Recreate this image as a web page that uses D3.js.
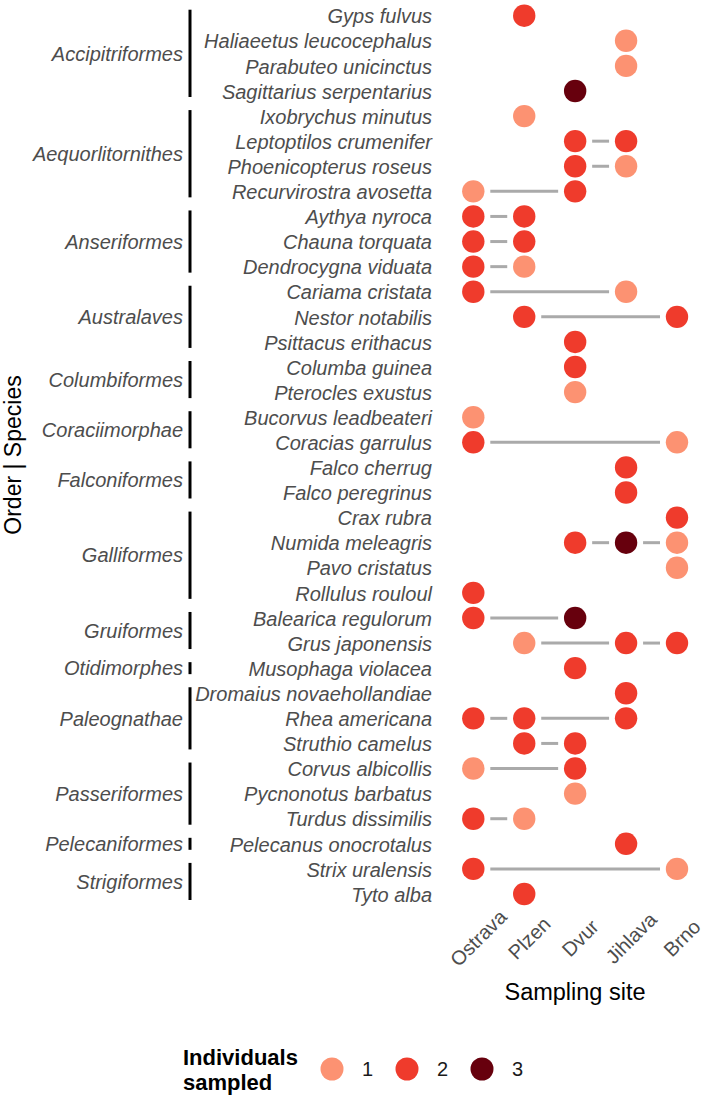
<!DOCTYPE html>
<html>
<head>
<meta charset="utf-8">
<script src="https://cdn.jsdelivr.net/npm/d3@7"></script>
<style>
  body { margin: 0; background: #fff; }
  text { font-family: "Liberation Sans", Arial, Helvetica, sans-serif; }
</style>
</head>
<body>
<div id="chart"></div>
<script>
"use strict";

// sampling sites (x axis)
var sites = ["Ostrava", "Plzen", "Dvur", "Jihlava", "Brno"];

// species, top to bottom
var species = [
  "Gyps fulvus", "Haliaeetus leucocephalus", "Parabuteo unicinctus", "Sagittarius serpentarius",
  "Ixobrychus minutus", "Leptoptilos crumenifer", "Phoenicopterus roseus", "Recurvirostra avosetta",
  "Aythya nyroca", "Chauna torquata", "Dendrocygna viduata",
  "Cariama cristata", "Nestor notabilis", "Psittacus erithacus",
  "Columba guinea", "Pterocles exustus",
  "Bucorvus leadbeateri", "Coracias garrulus",
  "Falco cherrug", "Falco peregrinus",
  "Crax rubra", "Numida meleagris", "Pavo cristatus", "Rollulus rouloul",
  "Balearica regulorum", "Grus japonensis",
  "Musophaga violacea",
  "Dromaius novaehollandiae", "Rhea americana", "Struthio camelus",
  "Corvus albicollis", "Pycnonotus barbatus", "Turdus dissimilis",
  "Pelecanus onocrotalus",
  "Strix uralensis", "Tyto alba"
];

// order names and how many species each has (in the same order as above)
var orders = ["Accipitriformes", "Aequorlitornithes", "Anseriformes", "Australaves",
              "Columbiformes", "Coraciimorphae", "Falconiformes", "Galliformes",
              "Gruiformes", "Otidimorphes", "Paleognathae", "Passeriformes",
              "Pelecaniformes", "Strigiformes"];
var orderSizes = [4, 4, 3, 3, 2, 2, 2, 4, 2, 1, 3, 3, 1, 2];

// sampled sites per species, with number of individuals
var samples = [
  [["Plzen", 2]],
  [["Jihlava", 1]],
  [["Jihlava", 1]],
  [["Dvur", 3]],
  [["Plzen", 1]],
  [["Dvur", 2], ["Jihlava", 2]],
  [["Dvur", 2], ["Jihlava", 1]],
  [["Ostrava", 1], ["Dvur", 2]],
  [["Ostrava", 2], ["Plzen", 2]],
  [["Ostrava", 2], ["Plzen", 2]],
  [["Ostrava", 2], ["Plzen", 1]],
  [["Ostrava", 2], ["Jihlava", 1]],
  [["Plzen", 2], ["Brno", 2]],
  [["Dvur", 2]],
  [["Dvur", 2]],
  [["Dvur", 1]],
  [["Ostrava", 1]],
  [["Ostrava", 2], ["Brno", 1]],
  [["Jihlava", 2]],
  [["Jihlava", 2]],
  [["Brno", 2]],
  [["Dvur", 2], ["Jihlava", 3], ["Brno", 1]],
  [["Brno", 1]],
  [["Ostrava", 2]],
  [["Ostrava", 2], ["Dvur", 3]],
  [["Plzen", 1], ["Jihlava", 2], ["Brno", 2]],
  [["Dvur", 2]],
  [["Jihlava", 2]],
  [["Ostrava", 2], ["Plzen", 2], ["Jihlava", 2]],
  [["Plzen", 2], ["Dvur", 2]],
  [["Ostrava", 1], ["Dvur", 2]],
  [["Dvur", 1]],
  [["Ostrava", 2], ["Plzen", 1]],
  [["Jihlava", 2]],
  [["Ostrava", 2], ["Brno", 1]],
  [["Plzen", 2]]
];

var counts = [1, 2, 3];
var countColors = ["#fc9272", "#ef3b2c", "#67000d"];

var width = 709, height = 1095;

var svg = d3.select("#chart")
            .append("svg")
            .attr("width", width)
            .attr("height", height);

// scales
var x = d3.scalePoint()
          .domain(sites)
          .range([473.3, 677]);

var y = d3.scalePoint()
          .domain(species)
          .range([15.7, 894]);

var color = d3.scaleOrdinal()
              .domain(counts)
              .range(countColors);

// flatten into points + segments
var points = [];
var segments = [];
samples.forEach(function(s, i) {
  s.forEach(function(p, j) {
    points.push({ species: species[i], site: p[0], n: p[1] });
    if (j > 0) {
      segments.push({ species: species[i], from: s[j - 1][0], to: p[0] });
    }
  });
});

var gap = 17;

svg.append("g")
   .selectAll("line")
   .data(segments)
   .enter()
   .append("line")
   .attr("x1", function(d) { return x(d.from) + gap; })
   .attr("x2", function(d) { return x(d.to) - gap; })
   .attr("y1", function(d) { return y(d.species); })
   .attr("y2", function(d) { return y(d.species); })
   .attr("stroke", "#aaaaaa")
   .attr("stroke-width", 3);

svg.append("g")
   .selectAll("circle")
   .data(points)
   .enter()
   .append("circle")
   .attr("cx", function(d) { return x(d.site); })
   .attr("cy", function(d) { return y(d.species); })
   .attr("r", 11.2)
   .attr("fill", function(d) { return color(d.n); });

// species labels (left axis)
var yAxis = d3.axisLeft(y).tickSize(0).tickPadding(0);
var gy = svg.append("g")
            .attr("transform", "translate(432,0)")
            .call(yAxis);
gy.select(".domain").remove();
gy.selectAll("text")
  .attr("x", 0)
  .attr("dy", "0.36em")
  .attr("font-size", 20)
  .attr("font-style", "italic")
  .attr("font-family", "Liberation Sans, Arial, sans-serif")
  .attr("fill", "#4d4d4d");

// order groups
var start = 0;
var groups = orders.map(function(o, i) {
  var g = { order: o, first: species[start], last: species[start + orderSizes[i] - 1] };
  start += orderSizes[i];
  return g;
});

var og = svg.append("g")
            .selectAll("g")
            .data(groups)
            .enter()
            .append("g");

og.append("line")
  .attr("x1", 190)
  .attr("x2", 190)
  .attr("y1", function(d) { return y(d.first) - 6; })
  .attr("y2", function(d) { return y(d.last) + 6; })
  .attr("stroke", "#000")
  .attr("stroke-width", 3);

og.append("text")
  .attr("x", 183)
  .attr("y", function(d) { return (y(d.first) + y(d.last)) / 2; })
  .attr("dy", "0.36em")
  .attr("text-anchor", "end")
  .attr("font-size", 20)
  .attr("font-style", "italic")
  .attr("fill", "#4d4d4d")
  .text(function(d) { return d.order; });

// site labels (bottom axis), rotated around their centre
svg.append("g")
   .selectAll("text")
   .data(sites)
   .enter()
   .append("text")
   .attr("transform", function(d) {
     return "translate(" + (x(d) + 5) + ",938) rotate(-45)";
   })
   .attr("text-anchor", "middle")
   .attr("dy", "0.35em")
   .attr("font-size", 20)
   .attr("fill", "#4d4d4d")
   .text(function(d) { return d; });

// axis titles
svg.append("text")
   .attr("transform", "translate(21,455) rotate(-90)")
   .attr("text-anchor", "middle")
   .attr("font-size", 23)
   .attr("fill", "#000")
   .text("Order | Species");

svg.append("text")
   .attr("x", 575)
   .attr("y", 1000)
   .attr("text-anchor", "middle")
   .attr("font-size", 23.5)
   .attr("fill", "#000")
   .text("Sampling site");

// legend
var legend = svg.append("g");

legend.append("text")
      .attr("x", 183)
      .attr("y", 1065)
      .attr("font-size", 22)
      .attr("font-weight", "bold")
      .text("Individuals");

legend.append("text")
      .attr("x", 183)
      .attr("y", 1090)
      .attr("font-size", 22)
      .attr("font-weight", "bold")
      .text("sampled");

var items = legend.selectAll("g.item")
                  .data(counts)
                  .enter()
                  .append("g")
                  .attr("class", "item")
                  .attr("transform", function(d, i) { return "translate(" + (332 + i * 75) + ",1069)"; });

items.append("circle")
     .attr("r", 11.5)
     .attr("fill", function(d) { return color(d); });

items.append("text")
     .attr("x", 30)
     .attr("dy", "0.36em")
     .attr("font-size", 20)
     .attr("fill", "#1a1a1a")
     .text(function(d) { return d; });
</script>
</body>
</html>
